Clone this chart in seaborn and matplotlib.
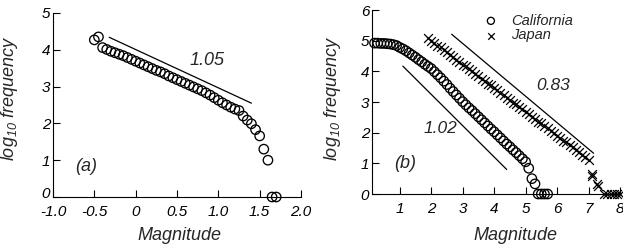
import matplotlib
matplotlib.use("Agg")
import matplotlib.pyplot as plt
import matplotlib.transforms as mtransforms
import seaborn as sns

# ---- panel (a) ----
mag_a = [-0.50, -0.45, -0.40, -0.35, -0.30, -0.25, -0.20, -0.15, -0.10, -0.05,
         0.00, 0.05, 0.10, 0.15, 0.20, 0.25, 0.30, 0.35, 0.40, 0.45,
         0.50, 0.55, 0.60, 0.65, 0.70, 0.75, 0.80, 0.85, 0.90, 0.95,
         1.00, 1.05, 1.10, 1.15, 1.20, 1.25, 1.30, 1.35, 1.40, 1.45,
         1.50, 1.55, 1.60, 1.65, 1.70]
logf_a = [4.27, 4.35, 4.06, 4.01, 3.96, 3.92, 3.88, 3.84, 3.79, 3.74,
          3.69, 3.64, 3.59, 3.54, 3.49, 3.44, 3.40, 3.35, 3.29, 3.24,
          3.19, 3.14, 3.09, 3.04, 2.99, 2.94, 2.89, 2.83, 2.77, 2.70,
          2.63, 2.56, 2.50, 2.44, 2.39, 2.35, 2.20, 2.09, 1.99, 1.83,
          1.66, 1.30, 1.00, 0.00, 0.00]
fit_a_x = [-0.32, 1.40]
fit_a_y = [4.34, 2.55]
slope_a = "1.05"
slope_a_pos = (0.86, 3.72)
tag_a_pos = (-0.60, 0.82)
xticks_a = [-1.0, -0.5, 0, 0.5, 1.0, 1.5, 2.0]
xticklabels_a = ["-1.0", "-0.5", "0", "0.5", "1.0", "1.5", "2.0"]
yticks_a = [0, 1, 2, 3, 4, 5]

# ---- panel (b) ----
mag_cal = [0.2, 0.3, 0.4, 0.5, 0.6, 0.7, 0.8, 0.9, 1.0, 1.1,
           1.2, 1.3, 1.4, 1.5, 1.6, 1.7, 1.8, 1.9, 2.0, 2.1,
           2.2, 2.3, 2.4, 2.5, 2.6, 2.7, 2.8, 2.9, 3.0, 3.1,
           3.2, 3.3, 3.4, 3.5, 3.6, 3.7, 3.8, 3.9, 4.0, 4.1,
           4.2, 4.3, 4.4, 4.5, 4.6, 4.7, 4.8, 4.9, 5.0, 5.1,
           5.2, 5.3, 5.4, 5.5, 5.6, 5.7]
logf_cal = [4.92, 4.92, 4.91, 4.91, 4.90, 4.89, 4.87, 4.84, 4.78, 4.73,
            4.67, 4.60, 4.53, 4.46, 4.38, 4.31, 4.23, 4.16, 4.09, 3.99,
            3.89, 3.79, 3.68, 3.57, 3.45, 3.34, 3.23, 3.12, 3.01, 2.91,
            2.81, 2.72, 2.62, 2.52, 2.42, 2.32, 2.22, 2.12, 2.03, 1.93,
            1.83, 1.73, 1.63, 1.54, 1.44, 1.35, 1.25, 1.15, 1.05, 0.84,
            0.50, 0.33, 0.00, 0.00, 0.00, 0.00]
mag_jap = [1.9, 2.0, 2.1, 2.2, 2.3, 2.4, 2.5, 2.6, 2.7, 2.8,
           2.9, 3.0, 3.1, 3.2, 3.3, 3.4, 3.5, 3.6, 3.7, 3.8,
           3.9, 4.0, 4.1, 4.2, 4.3, 4.4, 4.5, 4.6, 4.7, 4.8,
           4.9, 5.0, 5.1, 5.2, 5.3, 5.4, 5.5, 5.6, 5.7, 5.8,
           5.9, 6.0, 6.1, 6.2, 6.3, 6.4, 6.5, 6.6, 6.7, 6.8,
           6.9, 7.0, 7.1, 7.12, 7.28, 7.3, 7.5, 7.6, 7.7, 7.8,
           7.9, 8.0]
logf_jap = [5.08, 5.00, 4.94, 4.84, 4.78, 4.69, 4.63, 4.53, 4.47, 4.38,
            4.32, 4.22, 4.16, 4.07, 4.01, 3.91, 3.85, 3.76, 3.70, 3.60,
            3.54, 3.45, 3.39, 3.29, 3.23, 3.14, 3.08, 2.98, 2.92, 2.83,
            2.77, 2.67, 2.61, 2.52, 2.46, 2.36, 2.30, 2.21, 2.15, 2.05,
            1.99, 1.90, 1.84, 1.74, 1.68, 1.59, 1.53, 1.43, 1.37, 1.28,
            1.22, 1.12, 0.66, 0.60, 0.32, 0.27, 0.00, 0.00, 0.00, 0.00,
            0.00, 0.00]
fit_cal_x = [1.10, 4.40]
fit_cal_y = [4.17, 0.80]
fit_jap_x = [2.65, 7.16]
fit_jap_y = [5.21, 1.33]
slope_cal = "1.02"
slope_cal_pos = (2.28, 2.14)
slope_jap = "0.83"
slope_jap_pos = (5.86, 3.55)
tag_b_pos = (1.17, 0.98)
xticks_b = [1, 2, 3, 4, 5, 6, 7, 8]
yticks_b = [0, 1, 2, 3, 4, 5, 6]

sns.set_style("ticks")
plt.rcParams["font.family"] = ["Liberation Sans", "DejaVu Sans"]
plt.rcParams["font.style"] = "italic"
plt.rcParams["mathtext.fontset"] = "custom"
plt.rcParams["mathtext.rm"] = "Liberation Sans:italic"
plt.rcParams["mathtext.it"] = "Liberation Sans:italic"
plt.rcParams["axes.edgecolor"] = "black"
plt.rcParams["axes.linewidth"] = 0.8

fig = plt.figure(figsize=(6.23, 2.48), dpi=100)
ax1 = fig.add_axes([53 / 623, 51 / 248, 248 / 623, 184 / 248])
ax2 = fig.add_axes([372 / 623, 54 / 248, 248 / 623, 184 / 248])

ylab = r"$log_{10}$ frequency"

# panel (a)
sns.scatterplot(x=mag_a, y=logf_a, ax=ax1, marker="o", s=46,
                fc="none", ec="black", linewidth=0.95, clip_on=False, zorder=3)
sns.lineplot(x=fit_a_x, y=fit_a_y, ax=ax1, color="black", linewidth=0.9)
ax1.text(*slope_a_pos, slope_a, fontsize=13, ha="center", va="center")
ax1.text(*tag_a_pos, "(a)", fontsize=13, ha="center", va="center")
ax1.set_xlim(-1.0, 2.0)
ax1.set_ylim(0, 5)
ax1.set_xticks(xticks_a)
ax1.set_xticklabels(xticklabels_a)
ax1.set_yticks(yticks_a)

# panel (b)
sns.scatterplot(x=mag_cal, y=logf_cal, ax=ax2, marker="o", s=46,
                fc="none", ec="black", linewidth=0.95, clip_on=False,
                zorder=3, label="California")
sns.scatterplot(x=mag_jap, y=logf_jap, ax=ax2, marker="x", s=40,
                color="black", linewidth=0.9, clip_on=False,
                zorder=3, label="Japan")
sns.lineplot(x=fit_cal_x, y=fit_cal_y, ax=ax2, color="black", linewidth=0.9)
sns.lineplot(x=fit_jap_x, y=fit_jap_y, ax=ax2, color="black", linewidth=0.9)
ax2.text(*slope_cal_pos, slope_cal, fontsize=12.5, ha="center", va="center")
ax2.text(*slope_jap_pos, slope_jap, fontsize=12.5, ha="center", va="center")
ax2.text(*tag_b_pos, "(b)", fontsize=13, ha="center", va="center")
ax2.set_xlim(0.12, 8.0)
ax2.set_ylim(0, 6)
ax2.set_xticks(xticks_b)
ax2.set_yticks(yticks_b)
ax2.legend(loc="upper left", bbox_to_anchor=(0.45, 0.98), frameon=False,
           fontsize=10.5, handlelength=1.0, handletextpad=0.9,
           labelspacing=0.05, borderpad=0, borderaxespad=0, markerscale=0.75)

for ax in (ax1, ax2):
    sns.despine(ax=ax)
    ax.tick_params(direction="in", length=5, width=0.8, labelsize=11,
                   pad=5.5, colors="black")
    ax.tick_params(axis="y", pad=2)
    ax.set_xlabel("Magnitude", fontsize=13)
    ax.set_ylabel(ylab, fontsize=13)

ax1.xaxis.set_label_coords(0.508, -0.165)
ax2.xaxis.set_label_coords(0.577, -0.182)
ax1.yaxis.set_label_coords(-0.133, 0.538)
ax2.yaxis.set_label_coords(-0.117, 0.52)

# lift the "0" on the left y axis a little so it clears "-1.0"
lift = mtransforms.ScaledTranslation(0, 3 / 72, fig.dpi_scale_trans)
zero_lbl = ax1.get_yticklabels()[0]
zero_lbl.set_transform(zero_lbl.get_transform() + lift)

fig.savefig("out.png", dpi=100)
